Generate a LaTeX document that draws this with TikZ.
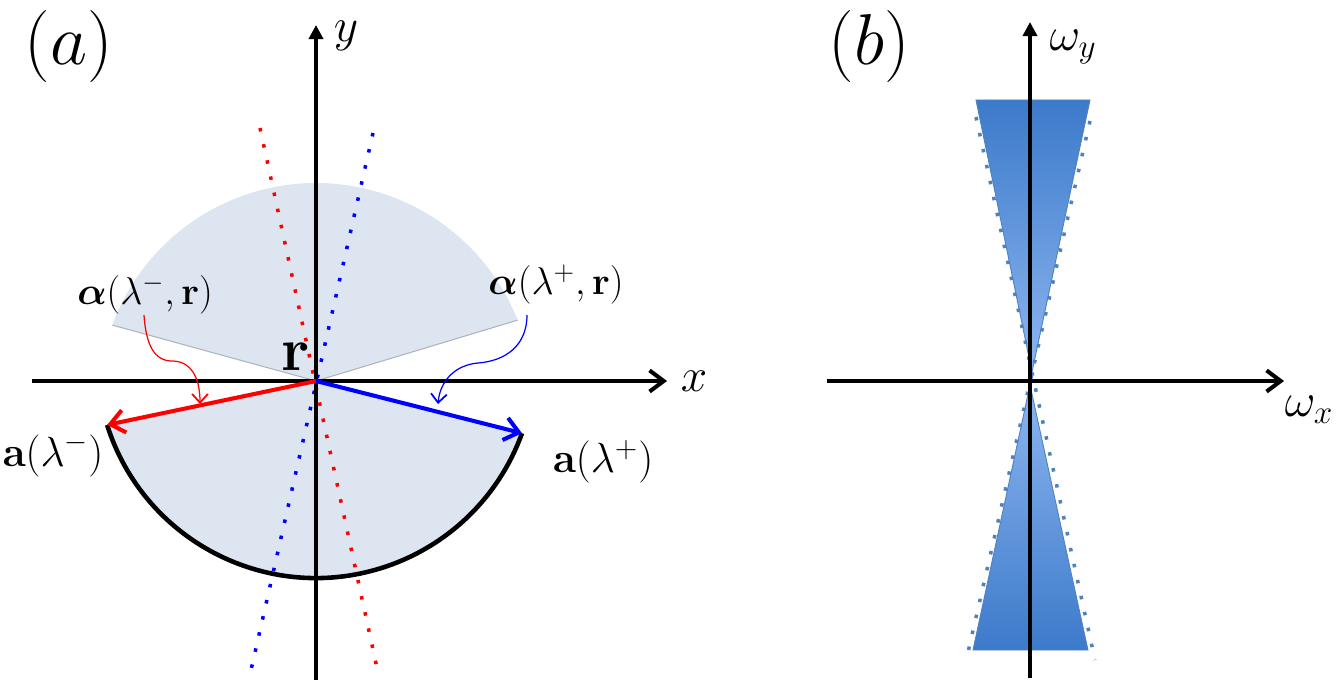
\RequirePackage{fix-cm}
\documentclass[tikz,border=0pt]{standalone}
\usepackage{amsmath,bm}
\usetikzlibrary{arrows.meta}
\definecolor{sectorfill}{RGB}{220,229,240}
\definecolor{sectoredge}{RGB}{175,180,188}
\definecolor{dotred}{RGB}{255,0,0}
\definecolor{dotblue}{RGB}{0,0,255}
\definecolor{officeblue}{RGB}{79,129,189}
\definecolor{triDark}{RGB}{60,122,202}
\definecolor{triLight}{RGB}{141,182,240}
\tikzset{
  axisline/.style={line width=2.3pt},
  barbhead/.style={-{Straight Barb[length=8pt,width=12pt,line width=2.3pt]}},
  trihead/.style={-{Triangle[length=8pt,width=8pt]}},
  dotline/.style={line width=2pt, dash pattern=on 2pt off 7.4pt},
  bdotline/.style={line width=2pt, dash pattern=on 2pt off 7.3pt, officeblue},
  thinconn/.style={line width=0.7pt, -{Straight Barb[length=5pt,width=9pt,line width=1pt]}},
  vecarrow/.style={line width=2.3pt, -{Straight Barb[length=8pt,width=13pt,line width=2.3pt]}},
  biglabel/.style={inner sep=0pt, font=\fontsize{41}{46}\selectfont},
  axlabel/.style={inner sep=0pt, font=\fontsize{27}{30}\selectfont},
  veclabel/.style={inner sep=0pt, font=\fontsize{22}{26}\selectfont},
  alabel/.style={inner sep=0pt, font=\fontsize{24}{28}\selectfont},
}
\begin{document}
\begin{tikzpicture}[x=0.02cm,y=0.02cm]
\useasboundingbox (0,0) rectangle (1339,691);

% ---------------- panel (a) ----------------
\coordinate (O) at (316,310);
\coordinate (Lm) at (107.1,266.1);
\coordinate (Lp) at (522,257.8);
\coordinate (Um) at (112.3,365.9);
\coordinate (Up) at (517.8,370.9);

% shaded sectors
\fill[sectorfill] (O) -- (Um) arc[start angle=159.8, end angle=21.6, radius=217] -- cycle;
\draw[sectoredge, line width=0.6pt] (Um) -- (O) -- (Up);
\fill[sectorfill] (O) -- (Lm) arc[start angle=197.5, end angle=340.2, radius=219] -- cycle;

% dotted lines
\coordinate (rtop) at (260,563);
\coordinate (rbot) at (377,23);
\coordinate (btop) at (373,558);
\coordinate (bbot) at (251,21);
\draw[dotline, dotred] (rtop) -- (rbot);
\draw[dotline, dotblue] (btop) -- (bbot);

% axes
\coordinate (xa0) at (32,310);
\coordinate (xa1) at (667,310);
\coordinate (ya0) at (316,11);
\coordinate (ya1) at (316,666);
\draw[axisline, barbhead] (xa0) -- (xa1);
\draw[axisline, trihead] (ya0) -- (ya1);

% lower arc
\draw[line width=2.6pt] (Lm) arc[start angle=197.5, end angle=340.2, radius=219];

% vectors
\draw[vecarrow, red] (O) -- (Lm);
\draw[vecarrow, blue] (O) -- (Lp);

% labels
\node[biglabel] (la) at (69,645) {$(a)$};
\node[axlabel] (lx) at (694,310) {$x$};
\node[axlabel] (ly) at (346,655) {$y$};
\node[inner sep=0pt, font=\fontsize{35}{39}\selectfont] (lr) at (296,334) {$\mathbf{r}$};
\node[veclabel] (alm) at (145,397) {$\bm{\alpha}(\lambda^{-},\mathbf{r})$};
\node[veclabel] (alp) at (556,406) {$\bm{\alpha}(\lambda^{+},\mathbf{r})$};
\node[alabel] (am) at (53,236) {$\mathbf{a}(\lambda^{-})$};
\node[alabel] (ap) at (603,229) {$\mathbf{a}(\lambda^{+})$};

% curvy connectors
\coordinate (tipm) at (200,287);
\coordinate (tipp) at (438,287);
\draw[thinconn, red] (144,376) .. controls (146,345) and (155,330) .. (172,330)
      .. controls (190,330) and (200,315) .. (tipm);
\draw[thinconn, blue] (527,376) .. controls (527,345) and (505,330) .. (478,328)
      .. controls (455,326) and (440,310) .. (tipp);

% ---------------- panel (b) ----------------
\coordinate (O2) at (1030,310);
\shadedraw[top color=triDark, bottom color=triLight, draw=officeblue, line width=0.5pt]
  (976,591) -- (1090,591) -- (1032,319) -- cycle;
\shadedraw[top color=triLight, bottom color=triDark, draw=officeblue, line width=0.5pt]
  (1030,306) -- (1088,41) -- (973,41) -- cycle;

\coordinate (d1a) at (976,574);
\coordinate (d1b) at (1095,31);
\coordinate (d2a) at (1090,570);
\coordinate (d2b) at (966,30);
\draw[bdotline] (d1a) -- (d1b);
\draw[bdotline] (d2a) -- (d2b);

\coordinate (xb0) at (827,310);
\coordinate (xb1) at (1284,310);
\coordinate (yb0) at (1030,13);
\coordinate (yb1) at (1030,669);
\draw[axisline, barbhead] (xb0) -- (xb1);
\draw[axisline, trihead] (yb0) -- (yb1);

\node[biglabel] (lb) at (869,645) {$(b)$};
\node[axlabel] (lwx) at (1309,281) {$\omega_x$};
\node[axlabel] (lwy) at (1073,644) {$\omega_y$};
\end{tikzpicture}
\end{document}
